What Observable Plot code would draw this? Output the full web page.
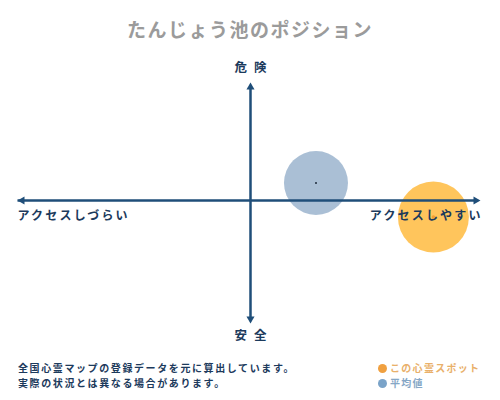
<!DOCTYPE html>
<html>
<head>
<meta charset="utf-8">
<script src="https://cdn.jsdelivr.net/npm/d3@7"></script>
<script src="https://cdn.jsdelivr.net/npm/@observablehq/plot@0.6"></script>
<style>
  html, body { margin: 0; padding: 0; background: #fff; }
  body { width: 500px; height: 400px; overflow: hidden; font-family: "Noto Sans CJK JP", sans-serif; }
  #title { height: 55px; line-height: 58px; text-align: center; font-size: 19px; font-weight: 700; color: #9b9b9b; letter-spacing: 1.5px; }
  #footer { position: relative; height: 50px; }
  #note { position: absolute; left: 18px; top: 10px; font-size: 10px; line-height: 15px; font-weight: 700; color: #1c3a5c; letter-spacing: 1.6px; }
  #legend { position: absolute; left: 378px; top: 10px; font-size: 10px; line-height: 15px; font-weight: 700; letter-spacing: 1.3px; }
  .dot { display: inline-block; width: 9px; height: 9px; border-radius: 50%; margin-right: 3px; vertical-align: -1px; }
</style>
</head>
<body>
<div id="title"></div>
<div id="chart"></div>
<div id="footer"><div id="note"></div><div id="legend"></div></div>
<script>
// ---- data ----
const title = "たんじょう池のポジション";
const axisTop = "危険";
const axisBottom = "安全";
const axisLeft = "アクセスしづらい";
const axisRight = "アクセスしやすい";
const seriesNames = ["この心霊スポット", "平均値"];
const seriesColors = ["#ffa500", "#4e79a7"];
const legendDotColors = ["#f0a040", "#7aa3c8"];
const legendTextColors = ["#e9b06a", "#86a7c6"];
// position values: x = accessibility (-1..1), y = danger (-1..1)
const spotX = [0.785];
const spotY = [-0.138];
const avgX = [0.281];
const avgY = [0.146];
const notes = ["全国心霊マップの登録データを元に算出しています。", "実際の状況とは異なる場合があります。"];

// ---- html text ----
document.getElementById("title").textContent = title;
document.getElementById("note").innerHTML = notes.map(n => `<div>${n}</div>`).join("");
document.getElementById("legend").innerHTML = seriesNames.map((n, i) =>
  `<div style="color:${legendTextColors[i]}"><span class="dot" style="background:${legendDotColors[i]}"></span>${n}</div>`).join("");

// ---- chart ----
const navy = "#1f4e79";
const textNavy = "#1c3a5c";
const ext = {left: -1, right: 0.987, top: 0.983, bottom: -1.025};
const heads = [
  {x: -0.98, y: 0, rot: -90},
  {x: 0.967, y: 0, rot: 90},
  {x: 0, y: 0.944, rot: 0},
  {x: 0, y: -0.986, rot: 180}
];
const spot = spotX.map((x, i) => ({x, y: spotY[i]}));
const avg = avgX.map((x, i) => ({x, y: avgY[i]}));

const chart = Plot.plot({
  width: 500,
  height: 295,
  marginLeft: 17,
  marginRight: 17,
  marginTop: 25,
  marginBottom: 30,
  x: {domain: [-1, 1], axis: null},
  y: {domain: [-1, 1], axis: null},
  style: {fontFamily: "'Noto Sans CJK JP', sans-serif", background: "transparent"},
  marks: [
    Plot.dot(avg, {x: "x", y: "y", r: 32, fill: seriesColors[1], fillOpacity: 0.48, stroke: "none"}),
    Plot.dot(spot, {x: "x", y: "y", r: 35.5, fill: seriesColors[0], fillOpacity: 0.64, stroke: "none"}),
    Plot.link([{x1: ext.left, y1: 0, x2: ext.right - 0.01, y2: 0}], {x1: "x1", y1: "y1", x2: "x2", y2: "y2", stroke: navy, strokeWidth: 2.5}),
    Plot.link([{x1: 0, y1: ext.top - 0.02, x2: 0, y2: ext.bottom + 0.02}], {x1: "x1", y1: "y1", x2: "x2", y2: "y2", stroke: navy, strokeWidth: 2.5}),
    Plot.dot(heads, {x: "x", y: "y", symbol: "triangle", r: 3, fill: navy, stroke: "none", rotate: "rot"}),
    Plot.text([axisTop], {x: 0, y: 1.108, text: d => d, fontSize: 12.5, fontWeight: 700, fill: textNavy}),
    Plot.text([axisBottom], {x: 0, y: -1.125, text: d => d, fontSize: 12.5, fontWeight: 700, fill: textNavy}),
    Plot.text([axisLeft], {x: -1, y: -0.133, text: d => d, textAnchor: "start", fontSize: 12, fontWeight: 700, fill: textNavy}),
    Plot.text([axisRight], {x: 0.987, y: -0.133, text: d => d, textAnchor: "end", fontSize: 12, fontWeight: 700, fill: textNavy}),
    Plot.dot(spot, {x: "x", y: "y", r: 1.8, fill: "#f0a030", stroke: "none"}),
    Plot.dot(avg, {x: "x", y: "y", r: 1, fill: "#1c2a3a", stroke: "none"})
  ]
});
d3.select(chart).selectAll("text").each(function() {
  const t = this.textContent;
  if (t === axisTop || t === axisBottom) {
    d3.select(this).style("letter-spacing", "7px").attr("dx", 3.5);
  } else if (t === axisLeft) {
    d3.select(this).style("letter-spacing", "2.2px");
  } else if (t === axisRight) {
    d3.select(this).style("letter-spacing", "2.2px").attr("dx", 2.2);
  }
});
document.getElementById("chart").appendChild(chart);
</script>
</body>
</html>
